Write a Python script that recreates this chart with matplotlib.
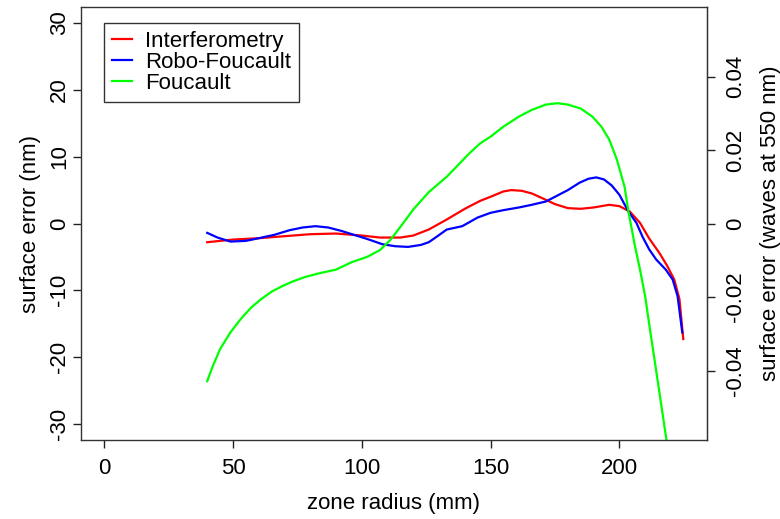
import matplotlib
matplotlib.use('Agg')
import matplotlib.pyplot as plt

plt.rcParams['font.family'] = ['Liberation Sans', 'DejaVu Sans']
plt.rcParams['axes.unicode_minus'] = False

# zone radius (mm) / surface error (nm)
interf_x = [40, 45, 50, 55, 60, 70, 80, 90, 100, 107, 115, 120, 126, 133, 140, 146, 150, 155,
            158, 162, 166, 170, 175, 180, 185, 190, 196, 200, 204, 208, 211.5, 215.5, 218.5,
            221.3, 223.3, 224.8]
interf_y = [-2.8, -2.6, -2.4, -2.3, -2.2, -1.9, -1.6, -1.5, -1.8, -2.1, -2.1, -1.8, -0.9, 0.6,
            2.2, 3.4, 4.0, 4.8, 5.0, 4.9, 4.5, 3.8, 2.9, 2.3, 2.2, 2.4, 2.8, 2.6, 1.8, 0.1,
            -2.2, -4.4, -6.3, -8.4, -11.3, -17.3]

robo_x = [40, 44, 49, 55, 60, 66, 72, 77, 82, 87, 92, 97, 102, 108, 113, 118, 123, 126, 129,
          133, 139, 145, 150, 155, 161, 166, 171.5, 176, 180, 184.5, 188, 191, 194, 197, 200,
          203.5, 206.6, 209, 211.6, 214.3, 218, 220.7, 222.6, 224.4]
robo_y = [-1.4, -2.1, -2.7, -2.6, -2.2, -1.7, -1.0, -0.6, -0.4, -0.6, -1.1, -1.7, -2.3, -3.1,
          -3.4, -3.5, -3.2, -2.8, -2.0, -0.9, -0.4, 0.9, 1.6, 2.0, 2.4, 2.8, 3.3, 4.2, 5.0,
          6.1, 6.7, 6.9, 6.6, 5.7, 4.3, 1.8, 0.1, -2.0, -3.9, -5.4, -6.9, -8.4, -10.9, -16.3]

fouc_x = [40, 42, 45, 49, 53, 57, 61, 65, 69, 73, 78, 84, 90, 96, 102, 107, 111, 115, 120, 126,
          133, 138, 142, 146, 150, 155, 161, 166, 171.5, 176, 180, 185, 189.5, 193, 196, 199,
          202, 203.5, 206, 208, 210, 212, 214, 216, 218, 219.5]
fouc_y = [-23.6, -21.5, -18.8, -16.3, -14.3, -12.6, -11.3, -10.2, -9.4, -8.7, -8.0, -7.4,
          -6.9, -5.8, -5.0, -4.0, -2.5, -0.5, 2.1, 4.7, 7.0, 9.0, 10.6, 12.0, 13.0, 14.5,
          16.0, 17.0, 17.8, 18.0, 17.8, 17.2, 16.0, 14.5, 12.6, 9.6, 5.5, 1.8, -3.3, -6.9,
          -10.9, -16.2, -21.3, -26.5, -31.7, -35.5]

x_ticks = [0, 50, 100, 150, 200]
y_ticks = [-30, -20, -10, 0, 10, 20, 30]
wave_ticks = [-0.04, -0.02, 0, 0.02, 0.04]
wave_labels = ['-0.04', '-0.02', '0', '0.02', '0.04']

fig = plt.figure(figsize=(7.8, 5.19), dpi=100)
ax = fig.add_axes([0.1038, 0.1522, 0.8026, 0.8343])

lw = 1.6
ax.plot(interf_x, interf_y, color='#ff0000', lw=lw, label='Interferometry')
ax.plot(robo_x, robo_y, color='#0000ff', lw=lw, label='Robo-Foucault')
ax.plot(fouc_x, fouc_y, color='#00ff00', lw=lw, label='Foucault')

ax.set_xlim(-9, 234)
ax.set_ylim(-32.4, 32.4)
ax.set_xticks(x_ticks)
ax.set_yticks(y_ticks)

fs = 16
ax.tick_params(direction='out', length=6, width=1, labelsize=fs, color='#222222')
ax.tick_params(axis='x', pad=7)
ax.tick_params(axis='y', pad=2)
plt.setp(ax.get_yticklabels(), rotation=90, va='center')
for s in ax.spines.values():
    s.set_color('#333333')
    s.set_linewidth(1)

ax.set_xlabel('zone radius (mm)', fontsize=fs, labelpad=10)
ax.set_ylabel('surface error (nm)', fontsize=fs, labelpad=6)

sec = ax.secondary_yaxis('right', functions=(lambda y: y / 550, lambda w: w * 550))
sec.set_yticks(wave_ticks)
sec.set_yticklabels(wave_labels)
sec.tick_params(direction='out', length=6, width=1, pad=7, labelsize=fs, color='#222222')
plt.setp(sec.get_yticklabels(), rotation=90, va='center')
sec.set_ylabel('surface error (waves at 550 nm)', fontsize=fs, labelpad=10)

leg = ax.legend(loc='upper left', bbox_to_anchor=(0.037, 0.963), fontsize=fs, frameon=True,
                fancybox=False, edgecolor='black', handlelength=0.9, handletextpad=0.6,
                labelspacing=0.0, borderpad=0.35, borderaxespad=0)
leg.get_frame().set_linewidth(1)

fig.savefig('out.png', dpi=100)
